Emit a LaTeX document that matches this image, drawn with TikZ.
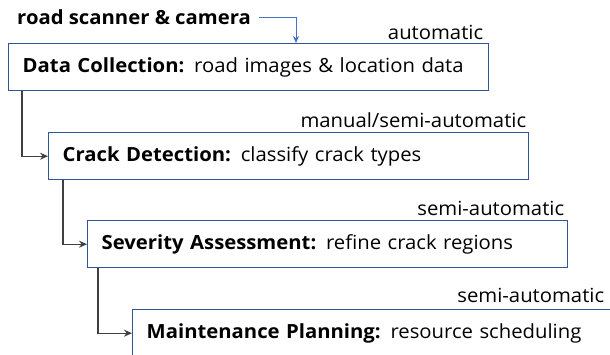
\documentclass[tikz,border=0pt]{standalone}
\usepackage{fontspec}
\setmainfont{Open Sans}[FakeStretch=1.04]
\usetikzlibrary{arrows.meta,calc}
\definecolor{boxblue}{HTML}{2F5597}
\definecolor{arrblue}{HTML}{4472C4}
\definecolor{conn}{HTML}{404040}
\begin{document}
\begin{tikzpicture}[x=1pt,y=-1pt,
  stagebox/.style={draw=boxblue,line width=1.4pt,anchor=north west,minimum width=480pt,minimum height=47pt,text width=452pt,inner xsep=14pt,inner ysep=0pt,align=left,font=\fontsize{19.5}{23}\selectfont},
  modelabel/.style={anchor=base east,font=\fontsize{19.5}{23}\selectfont,inner sep=0pt},
  flow/.style={draw=conn,line width=1.1pt,-{Stealth[length=8pt,width=7pt]}}]
\clip (0,0) rectangle (610,354);
\fill[white] (0,0) rectangle (610,354);
\node[anchor=west,inner sep=0pt,font=\fontsize{19.5}{23}\selectfont\bfseries] (src) at (17,17) {road scanner \& camera};
\node[stagebox] (b1) at (8,43) {\mbox{\textbf{Data Collection:} road images \& location data}};
\node[stagebox] (b2) at (48,132) {\mbox{\textbf{Crack Detection:} classify crack types}};
\node[stagebox] (b3) at (87,220) {\mbox{\textbf{Severity Assessment:} refine crack regions}};
\node[stagebox] (b4) at (132,309) {\mbox{\textbf{Maintenance Planning:} resource scheduling}};
\node[modelabel] (l1) at ($(b1.north east)+(-6,-4)$) {automatic};
\node[modelabel] (l2) at ($(b2.north east)+(-3,-5)$) {manual/semi-automatic};
\node[modelabel] (l3) at ($(b3.north east)+(-4,-5)$) {semi-automatic};
\node[modelabel] (l4) at ($(b4.north east)+(-9,-7)$) {semi-automatic};
\coordinate (bt) at ($(b1.north west)+(288,0)$);
\draw[draw=arrblue,line width=0.9pt,-{Stealth[length=7pt,width=6pt]}] ($(src.east)+(8,0)$) -| (bt);
\coordinate (c1) at ($(b1.south west)+(14,0)$);
\coordinate (c2) at ($(b2.south west)+(15,0)$);
\coordinate (c3) at ($(b3.south west)+(11,0)$);
\draw[flow] (c1) |- (b2.west);
\draw[flow] (c2) |- (b3.west);
\draw[flow] (c3) |- (b4.west);
\end{tikzpicture}
\end{document}
